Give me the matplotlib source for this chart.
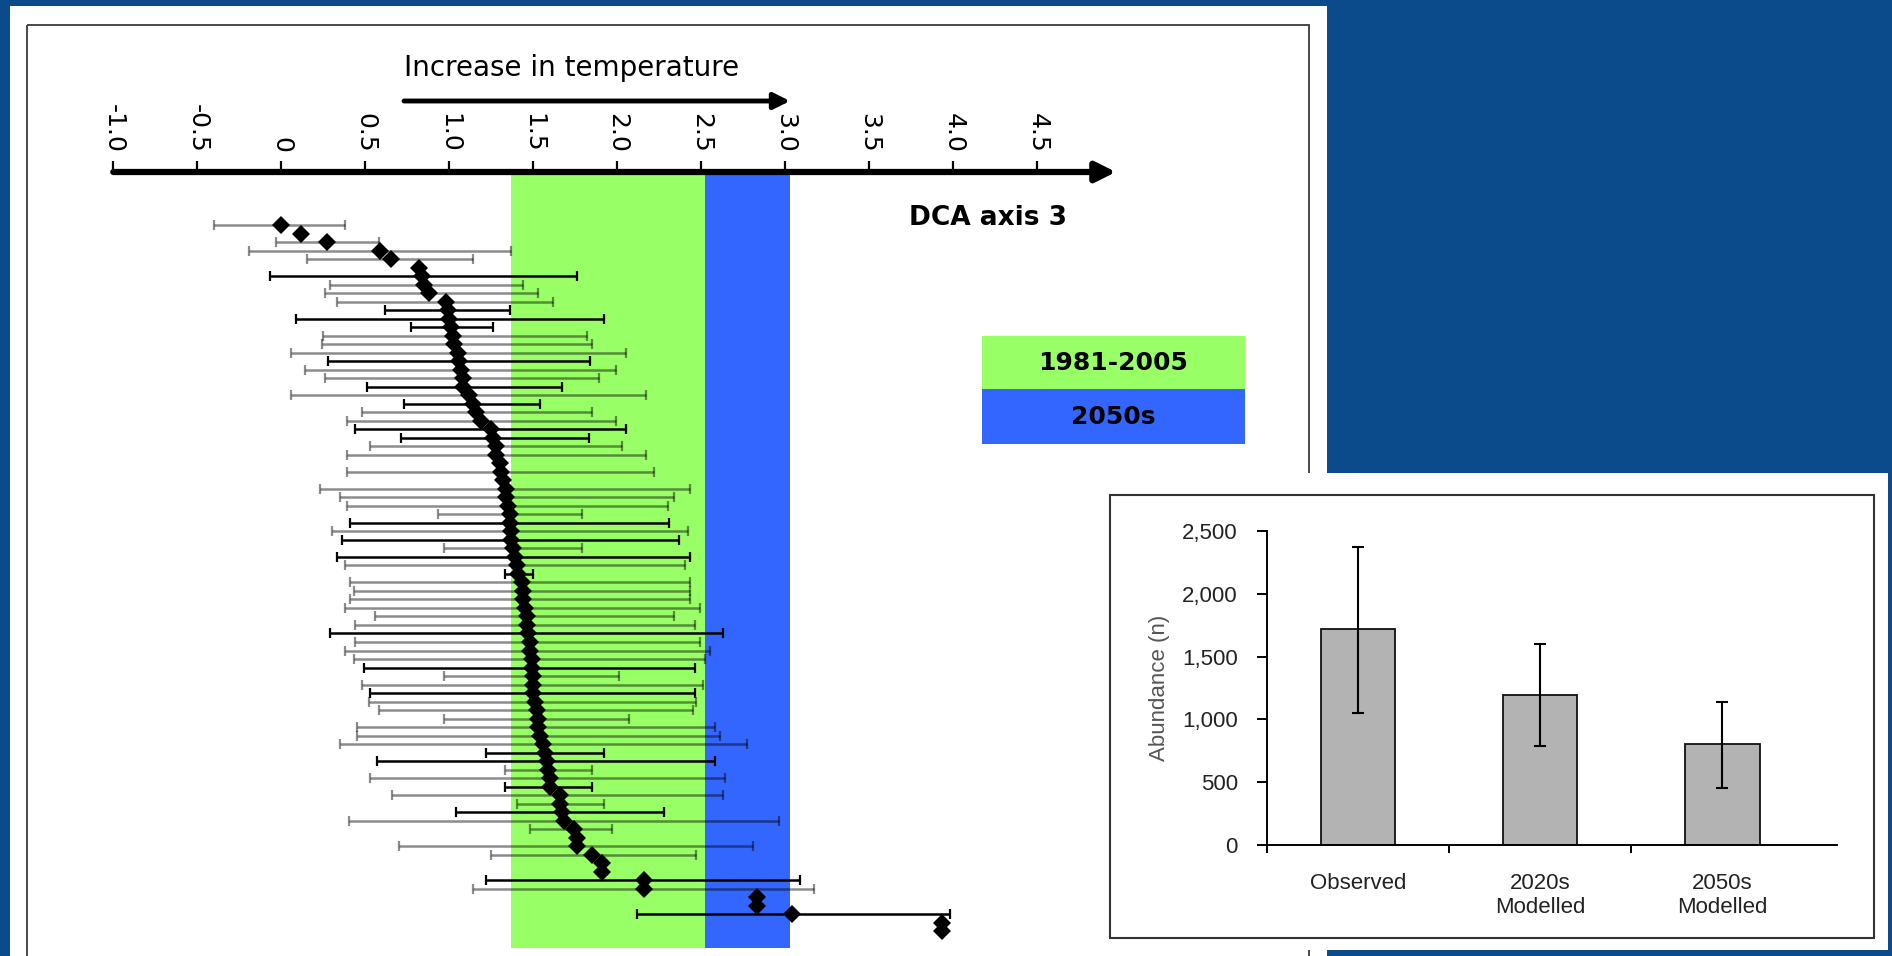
import numpy as np
import matplotlib
matplotlib.use("Agg")
import matplotlib.pyplot as plt
from matplotlib.patches import Rectangle
from matplotlib.ticker import FuncFormatter

W, H = 1892, 956

# DCA axis 3 score per species (mean and range), top row first
dca_mean = [-0.00, 0.12, 0.27, 0.59, 0.65, 0.82, 0.84, 0.85, 0.88, 0.98,
            0.99, 1.00, 1.01, 1.02, 1.03, 1.05, 1.06, 1.07, 1.08, 1.08,
            1.12, 1.14, 1.16, 1.19, 1.25, 1.26, 1.28, 1.28, 1.30, 1.31,
            1.32, 1.34, 1.34, 1.35, 1.36, 1.36, 1.37, 1.37, 1.38, 1.39,
            1.40, 1.41, 1.43, 1.44, 1.44, 1.45, 1.46, 1.46, 1.47, 1.48,
            1.48, 1.49, 1.49, 1.50, 1.50, 1.50, 1.51, 1.52, 1.53, 1.53,
            1.54, 1.56, 1.57, 1.58, 1.59, 1.60, 1.60, 1.66, 1.66, 1.67,
            1.68, 1.74, 1.76, 1.76, 1.85, 1.91, 1.91, 2.16, 2.16, 2.83,
            2.83, 3.04, 3.93, 3.93]
nan = np.nan
dca_lo = [-0.40, nan, -0.03, -0.19, 0.15, nan, -0.07, 0.29, 0.26, 0.33,
          0.62, 0.09, 0.77, 0.25, 0.24, 0.06, 0.28, 0.14, 0.26, 0.51,
          0.06, 0.73, 0.48, 0.39, 0.44, 0.71, 0.53, 0.39, nan, 0.39,
          nan, 0.23, 0.35, 0.39, 0.93, 0.41, 0.30, 0.36, 0.97, 0.33,
          0.38, 1.33, 0.41, 0.43, 0.41, 0.38, 0.56, 0.44, 0.29, 0.44,
          0.38, 0.43, 0.49, 0.97, 0.48, 0.53, 0.52, 0.58, 0.97, 0.45,
          0.45, 0.35, 1.22, 0.57, 1.33, 0.53, 1.33, 0.66, 1.40, 1.04,
          0.40, 1.48, nan, 0.70, 1.25, nan, nan, 1.22, 1.14, nan,
          nan, 2.12, nan, nan]
dca_hi = [0.38, nan, 0.58, 1.37, 1.14, nan, 1.76, 1.44, 1.53, 1.62,
          1.36, 1.92, 1.26, 1.82, 1.85, 2.05, 1.84, 1.99, 1.89, 1.67,
          2.17, 1.54, 1.85, 1.99, 2.05, 1.83, 2.03, 2.17, nan, 2.22,
          nan, 2.43, 2.34, 2.30, 1.79, 2.31, 2.42, 2.37, 1.79, 2.43,
          2.40, 1.50, 2.43, 2.43, 2.43, 2.49, 2.34, 2.46, 2.63, 2.49,
          2.55, 2.52, 2.46, 2.01, 2.51, 2.46, 2.47, 2.45, 2.07, 2.58,
          2.61, 2.77, 1.92, 2.58, 1.85, 2.64, 1.85, 2.63, 1.92, 2.28,
          2.96, 1.97, nan, 2.81, 2.47, nan, nan, 3.09, 3.17, nan,
          nan, 3.98, nan, nan]
# rows (1-based) whose range bar is drawn black instead of grey
dark_rows = [7, 11, 12, 13, 17, 20, 22, 25, 26, 36, 38, 40, 42, 49, 53,
             56, 63, 64, 67, 70, 78, 82]

tick_vals = [-1.0, -0.5, 0, 0.5, 1.0, 1.5, 2.0, 2.5, 3.0, 3.5, 4.0, 4.5]
tick_labels = ['-1.0', '-0.5', '0', '0.5', '1.0', '1.5', '2.0', '2.5',
               '3.0', '3.5', '4.0', '4.5']

# climate envelopes on the DCA axis
period_labels = ['1981-2005', '2050s']
period_start = [1.365, 2.52]
period_end = [2.52, 3.03]
period_colors = ['#99ff66', '#3366ff']

# inset: abundance
categories = ['Observed', '2020s\nModelled', '2050s\nModelled']
abundance = [1720, 1195, 805]
abundance_lo = [1050, 790, 450]
abundance_hi = [2375, 1600, 1140]


def px_axes(fig, x0, y0, x1, y1, z):
    # axes placed with pixel coordinates measured from the top left
    return fig.add_axes([x0 / W, 1 - y1 / H, (x1 - x0) / W, (y1 - y0) / H], zorder=z)


def overlay(fig, z):
    a = fig.add_axes([0, 0, 1, 1], zorder=z)
    a.set_xlim(0, W)
    a.set_ylim(H, 0)
    a.axis('off')
    a.patch.set_alpha(0)
    return a


fig = plt.figure(figsize=(W / 100, H / 100), dpi=100)
fig.patch.set_facecolor('#0b4a8b')

bg = overlay(fig, 0)
bg.add_patch(Rectangle((10, 6), 1317, 960, fc='white', ec='none'))
bg.add_patch(Rectangle((27, 25), 1282, 960, fill=False, ec='#3a3a3a', lw=1.3))

# main chart
ax = px_axes(fig, 113.3, 172, 1116, 948, 1)
ax.patch.set_alpha(0)
n = len(dca_mean)
rows = np.arange(n)
ax.set_xlim(-1.0, -1.0 + (1116 - 113.3) / 168.0)
ax.set_ylim((948 - 225) / 8.51, (172 - 225) / 8.51)

for s, e, c in zip(period_start, period_end, period_colors):
    ax.axvspan(s, e, color=c, lw=0, zorder=0)

mean = np.array(dca_mean)
lo = np.array(dca_lo)
hi = np.array(dca_hi)
has_bar = ~np.isnan(lo)
dark = np.isin(rows + 1, dark_rows)
for mask, col in [(has_bar & ~dark, (0, 0, 0, 0.45)), (has_bar & dark, 'k')]:
    ax.errorbar(mean[mask], rows[mask], xerr=[mean[mask] - lo[mask], hi[mask] - mean[mask]],
                fmt='none', ecolor=col, elinewidth=1.8, capsize=3.4, capthick=1.6, zorder=3)
ax.plot(mean, rows, 'D', color='k', ms=8.8, mew=0, zorder=5)

for sp in ax.spines.values():
    sp.set_visible(False)
ax.set_yticks([])
ax.xaxis.set_ticks_position('top')
ax.set_xticks(tick_vals, tick_labels)
ax.tick_params(axis='x', top=True, bottom=False, labeltop=True, labelbottom=False,
               direction='out', length=8, width=1.6, pad=6, labelsize=18,
               labelrotation=-90)
ax.annotate('', xy=(1, 1), xytext=(0, 1), xycoords='axes fraction',
            arrowprops=dict(arrowstyle='-|>', color='k', lw=4.5, mutation_scale=30,
                            shrinkA=0, shrinkB=0), annotation_clip=False)

bg.text(404, 76, 'Increase in temperature', fontsize=20, ha='left', va='baseline')
bg.annotate('', xy=(790, 101), xytext=(404, 101),
            arrowprops=dict(arrowstyle='-|>', color='k', lw=3.5, mutation_scale=24,
                            shrinkA=0, shrinkB=0))
bg.text(909, 225, 'DCA axis 3', fontsize=19, fontweight='bold', ha='left', va='baseline')

# colour key
key_y = [336, 389]
key_h = [53, 55]
for lab, c, y, h in zip(period_labels, period_colors, key_y, key_h):
    bg.add_patch(Rectangle((982, y), 263, h, fc=c, ec='none'))
    bg.text(1113, y + h / 2 + 1, lab, fontsize=18, fontweight='bold',
            ha='center', va='center')

# inset panel
fg = overlay(fig, 2)
fg.add_patch(Rectangle((1098, 473), 790, 477, fc='white', ec='none'))
fg.add_patch(Rectangle((1110, 495), 764, 443, fill=False, ec='#333333', lw=1.5))

ax2 = px_axes(fig, 1267, 531, 1837, 845, 3)
ax2.patch.set_alpha(0)
xpos = np.arange(len(categories))
ab = np.array(abundance)
ax2.bar(xpos, ab, width=0.41, color='#b3b3b3', edgecolor='#111111', lw=1.3, zorder=2)
ax2.errorbar(xpos, ab, yerr=[ab - np.array(abundance_lo), np.array(abundance_hi) - ab],
             fmt='none', ecolor='k', elinewidth=1.5, capsize=4, capthick=1.5, zorder=3)
ax2.set_xlim(-0.5, 2.63)
ax2.set_ylim(0, 2500)
ax2.spines['top'].set_visible(False)
ax2.spines['right'].set_visible(False)
ax2.spines['left'].set_linewidth(1.4)
ax2.spines['bottom'].set_linewidth(1.4)
ax2.set_yticks([0, 500, 1000, 1500, 2000, 2500])
ax2.yaxis.set_major_formatter(FuncFormatter(lambda v, p: '{:,.0f}'.format(v)))
ax2.set_xticks(xpos, categories, fontfamily='Liberation Sans')
ax2.set_xticks([-0.5, 0.5, 1.5], minor=True)
ax2.tick_params(axis='x', which='major', length=0, pad=20, labelsize=16, labelcolor='#222222')
ax2.tick_params(axis='x', which='minor', length=6, width=1.4, direction='out')
ax2.tick_params(axis='y', length=7, width=1.4, direction='out', pad=14, labelsize=16,
                labelcolor='#222222')
for t in ax2.get_yticklabels():
    t.set_fontfamily('Liberation Sans')
ax2.set_ylabel('Abundance (n)', fontsize=16, color='#555555', fontfamily='Liberation Sans',
               labelpad=9)

fig.savefig('out.png', dpi=100, facecolor=fig.get_facecolor())
